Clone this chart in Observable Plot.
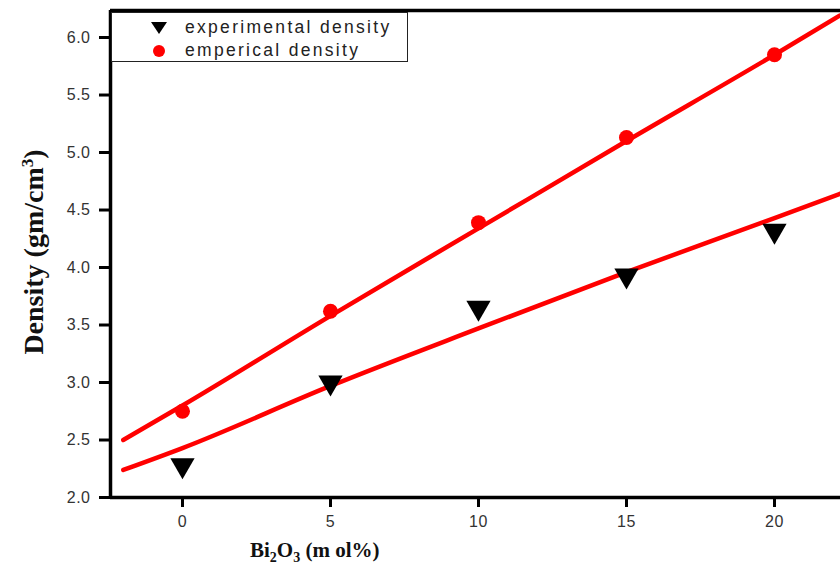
<!DOCTYPE html>
<html>
<head>
<meta charset="utf-8">
<script src="https://cdn.jsdelivr.net/npm/d3@7"></script>
<script src="https://cdn.jsdelivr.net/npm/@observablehq/plot@0.6"></script>
<style>
  html, body { margin: 0; padding: 0; background: #fff; }
  #wrap { position: relative; width: 840px; height: 575px; overflow: hidden; }
  .lbl { position: absolute; font-family: "Liberation Serif", "Times New Roman", serif; font-weight: bold; color: #111; white-space: nowrap; }
  #legend { position: absolute; left: 111px; top: 12px; width: 295px; height: 48px; border: 1px solid #222; background: #fff; font-family: "Liberation Sans Narrow", "Liberation Sans", Arial, sans-serif; font-size: 17.5px; letter-spacing: 2.3px; color: #222; }
  #legend .row { position: absolute; left: 0; height: 20px; display: flex; align-items: center; }
  #legend svg { margin-left: 36px; margin-right: 15px; }
</style>
</head>
<body>
<div id="wrap"></div>
<script>
// Data
const bi2o3 = [0, 5, 10, 15, 20];
const experimental = [2.28, 3.00, 3.65, 3.93, 4.32];
const emperical = [2.75, 3.62, 4.39, 5.13, 5.85];

// Fit curves as drawn in the reference
const fitX = [-2, 0, 5, 10, 15, 20, 22.2];
const fitExperimental = [2.24, 2.43, 2.97, 3.47, 3.96, 4.43, 4.64];
const fitEmperical = [2.50, 2.80, 3.58, 4.34, 5.10, 5.85, 6.19];

const xTicks = [0, 5, 10, 15, 20];
const yTicks = [2.0, 2.5, 3.0, 3.5, 4.0, 4.5, 5.0, 5.5, 6.0];

const xDomain = [-2.432, 22.23];
const yDomain = [2.0, 6.235];

const expData = bi2o3.map((x, i) => ({x, y: experimental[i]}));
const empData = bi2o3.map((x, i) => ({x, y: emperical[i]}));
const fitExpData = fitX.map((x, i) => ({x, y: fitExperimental[i]}));
const fitEmpData = fitX.map((x, i) => ({x, y: fitEmperical[i]}));

const tickFont = "Liberation Sans, Arial, sans-serif";

const chart = Plot.plot({
  width: 840,
  height: 575,
  marginLeft: 110,
  marginRight: 0,
  marginTop: 10,
  marginBottom: 78,
  style: { background: "#fff", fontFamily: tickFont },
  x: { domain: xDomain },
  y: { domain: yDomain },
  marks: [
    Plot.axisX({ticks: xTicks, tickSize: 10, strokeWidth: 3, tickPadding: 8, fill: "#333", label: null, tickFormat: d3.format("d")}),
    Plot.axisY({ticks: yTicks, tickSize: 11, strokeWidth: 3, tickPadding: 9, fill: "#333", label: null, tickFormat: d3.format(".1f")}),
    Plot.line(fitEmpData, {x: "x", y: "y", stroke: "#ff0000", strokeWidth: 4.5, curve: "monotone-x"}),
    Plot.line(fitExpData, {x: "x", y: "y", stroke: "#ff0000", strokeWidth: 4.5, curve: "monotone-x"}),
    Plot.dot(empData, {x: "x", y: "y", r: 7.5, fill: "#ff0000", symbol: "circle"}),
    Plot.dot(expData, {x: "x", y: "y", r: 9, fill: "#000", symbol: "triangle", rotate: 180}),
    Plot.ruleX([xDomain[0]], {stroke: "#000", strokeWidth: 3.5}),
    Plot.ruleY([yDomain[0]], {stroke: "#000", strokeWidth: 3.5}),
    Plot.ruleY([yDomain[1]], {stroke: "#000", strokeWidth: 3.5})
  ]
});

// enlarge tick labels
d3.select(chart).selectAll("[aria-label$='tick label']").style("font-size", "16px").attr("letter-spacing", "0.5px");

const wrap = document.getElementById("wrap");
chart.style.position = "absolute";
chart.style.left = "0";
chart.style.top = "0";
wrap.appendChild(chart);

const xl = document.createElement("div");
xl.className = "lbl";
xl.style.fontSize = "21px";
xl.style.left = "250px";
xl.style.top = "538px";
xl.innerHTML = 'Bi<sub style="font-size:14px">2</sub>O<sub style="font-size:14px">3</sub> (m ol%)';
wrap.appendChild(xl);

const yl = document.createElement("div");
yl.className = "lbl";
yl.style.fontSize = "28px";
yl.style.left = "34px";
yl.style.top = "252px";
yl.style.transform = "translate(-50%, -50%) rotate(-90deg)";
yl.innerHTML = 'Density (gm/cm<sup style="font-size:17px">3</sup>)';
wrap.appendChild(yl);

const lg = document.createElement("div");
lg.id = "legend";
lg.innerHTML =
  '<div class="row" style="top:4px"><svg width="22" height="18"><path d="M3,4 L19,4 L11,16 Z" fill="#000"/></svg>experimental density</div>' +
  '<div class="row" style="top:27px"><svg width="22" height="18"><circle cx="11" cy="10" r="6" fill="#ff0000"/></svg>emperical density</div>';
wrap.appendChild(lg);
</script>
</body>
</html>
